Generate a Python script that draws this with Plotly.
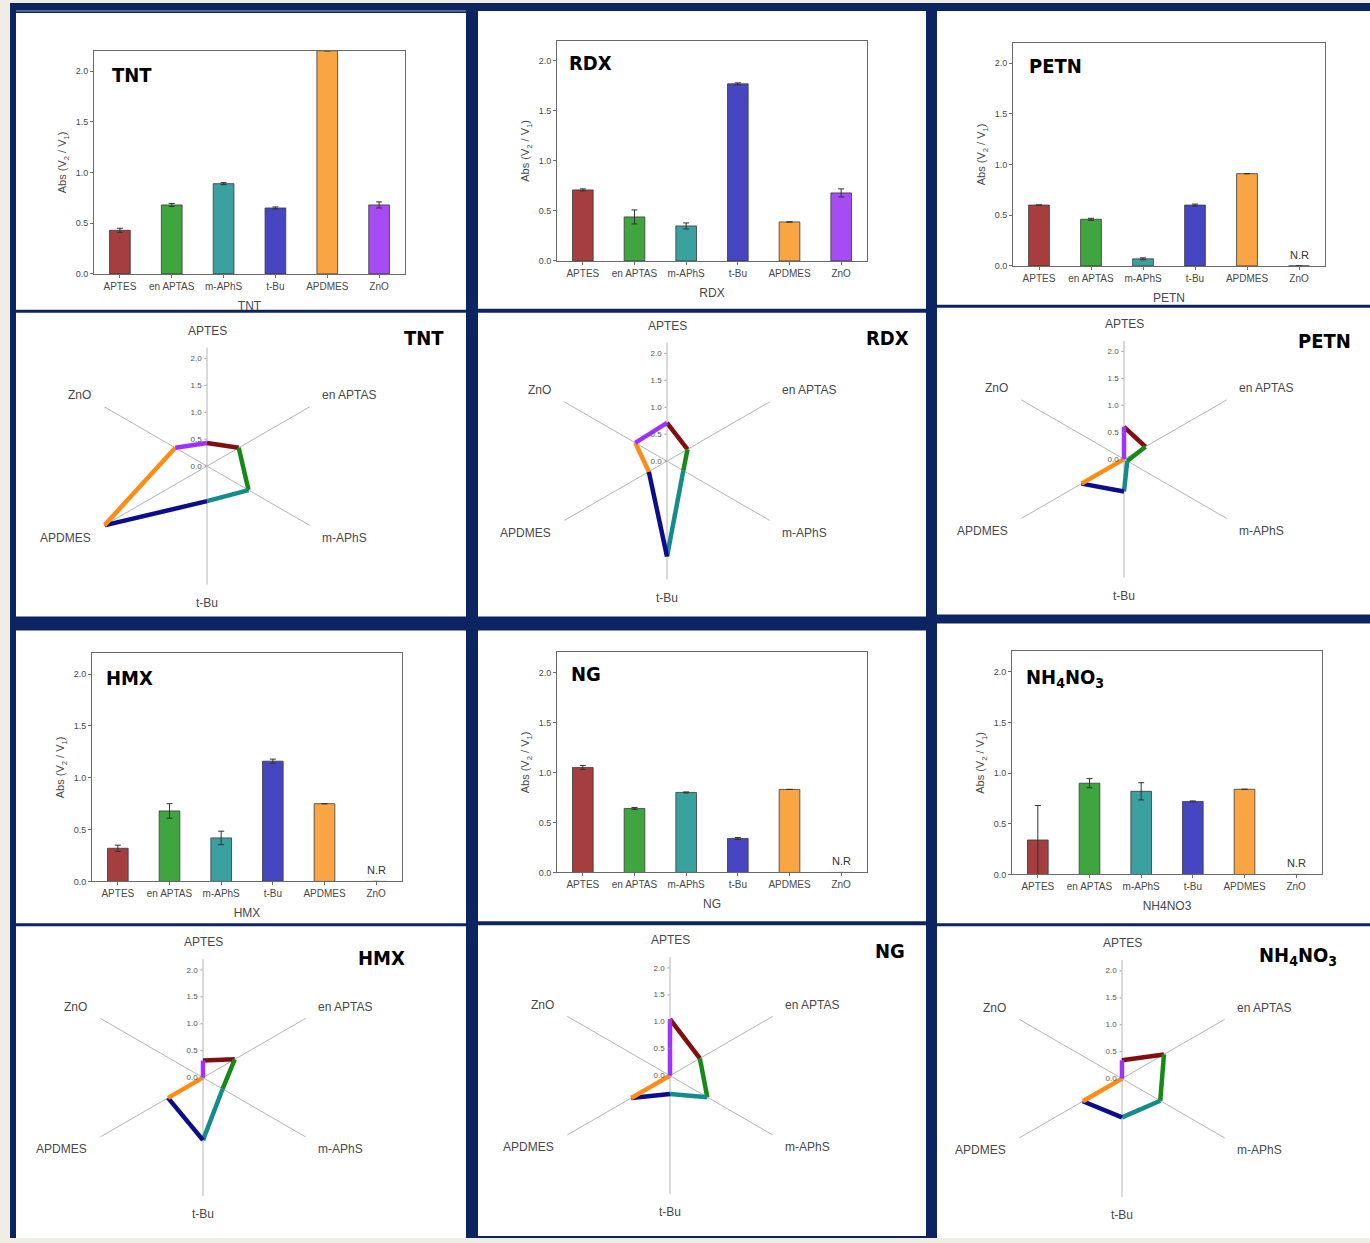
import plotly.graph_objects as go

# ---- data -------------------------------------------------------------
categories = ["APTES", "en APTAS", "m-APhS", "t-Bu", "APDMES", "ZnO"]

tnt = [0.43, 0.68, 0.89, 0.65, 2.20, 0.68]
tnt_err = [0.02, 0.015, 0.01, 0.01, 0.0, 0.03]

rdx = [0.71, 0.44, 0.35, 1.77, 0.39, 0.68]
rdx_err = [0.01, 0.07, 0.03, 0.01, 0.0, 0.04]

petn = [0.60, 0.46, 0.07, 0.60, 0.91, 0.0]
petn_err = [0.0, 0.01, 0.01, 0.01, 0.0, 0.0]

hmx = [0.32, 0.68, 0.42, 1.16, 0.75, 0.0]
hmx_err = [0.03, 0.07, 0.065, 0.02, 0.0, 0.0]

ng = [1.05, 0.64, 0.80, 0.34, 0.83, 0.0]
ng_err = [0.02, 0.01, 0.005, 0.01, 0.0, 0.0]

nh4no3 = [0.34, 0.90, 0.82, 0.72, 0.84, 0.0]
nh4no3_err = [0.34, 0.045, 0.085, 0.005, 0.0, 0.0]

y_ticks = [0.0, 0.5, 1.0, 1.5, 2.0]
y_tick_labels = ["0.0", "0.5", "1.0", "1.5", "2.0"]

# ---- styles -----------------------------------------------------------
bar_colors = ["#a53f3f", "#3fa53f", "#3aa0a0", "#4646c2", "#f9a544", "#a64cf2"]
seg_colors = ["#820f0f", "#168a16", "#148c8c", "#0c0c8c", "#ff8c14", "#a032ff"]
NAVY = "#0c2461"
W, H = 1370, 1243
LABEL_FONT = "Liberation Sans, Arial, sans-serif"
TITLE_FONT = "Liberation Sans Narrow, DejaVu Sans Condensed, Arial Narrow, Liberation Sans, sans-serif"
GREY_TEXT = "#484848"


def fx(x):
    return x / W


def fy(y):
    return 1 - y / H


# panel geometry (pixels): bar frame box, radar centre, title anchors
panels = [
    dict(label="TNT", xtitle="TNT", vals=tnt, err=tnt_err, nr=False,
         bar=(94, 51, 405, 275), btitle=(110, 75),
         radar=(207, 468), rtitle=(424, 339)),
    dict(label="RDX", xtitle="RDX", vals=rdx, err=rdx_err, nr=False,
         bar=(557, 41, 867, 262), btitle=(567, 63),
         radar=(667, 463), rtitle=(887, 339)),
    dict(label="PETN", xtitle="PETN", vals=petn, err=petn_err, nr=True,
         bar=(1013, 43, 1325, 267), btitle=(1027, 66),
         radar=(1124, 461), rtitle=(1324, 342)),
    dict(label="HMX", xtitle="HMX", vals=hmx, err=hmx_err, nr=True,
         bar=(92, 656, 402, 885), btitle=(104, 681),
         radar=(203, 1082), rtitle=(381, 962)),
    dict(label="NG", xtitle="NG", vals=ng, err=ng_err, nr=True,
         bar=(557, 655, 867, 876), btitle=(569, 677),
         radar=(670, 1080), rtitle=(890, 955)),
    dict(label="NH<sub>4</sub>NO<sub>3</sub>", xtitle="NH4NO3",
         vals=nh4no3, err=nh4no3_err, nr=True,
         bar=(1012, 654, 1322, 878), btitle=(1024, 681),
         radar=(1122, 1083), rtitle=(1298, 960)),
]

# spoke label placement around each radar centre (dx, dy, xanchor)
spoke_label_pos = [
    (0, -136, "center"), (113, -71, "left"), (113, 72, "left"),
    (0, 137, "center"), (-114, 72, "right"), (-114, -71, "right"),
]

# white cells inside the navy frame (x0, y0, x1, y1)
cells = [
    (16, 13, 466, 311), (16, 314, 466, 619),
    (478, 11, 926, 310), (478, 314, 926, 619),
    (937, 11, 1370, 306), (937, 309, 1370, 617),
    (16, 633, 466, 927), (16, 930, 466, 1243),
    (478, 633, 926, 925), (478, 929, 926, 1241),
    (937, 626, 1370, 927), (937, 930, 1370, 1243),
]

R_PX = 119

fig = go.Figure()
layout = dict(
    width=W, height=H, margin=dict(l=0, r=0, t=0, b=0),
    paper_bgcolor="#efede4", plot_bgcolor="white", showlegend=False,
    shapes=[], annotations=[],
)

layout["shapes"].append(dict(type="rect", xref="paper", yref="paper",
                             x0=fx(10), x1=fx(W), y0=fy(H), y1=fy(3),
                             fillcolor=NAVY, line=dict(width=0), layer="below"))
for (x0, y0, x1, y1) in cells:
    layout["shapes"].append(dict(type="rect", xref="paper", yref="paper",
                                 x0=fx(x0), x1=fx(x1), y0=fy(y1), y1=fy(y0),
                                 fillcolor="white", line=dict(width=0), layer="below"))
# faint inner rule along the top of the first panel
layout["shapes"].append(dict(type="line", xref="paper", yref="paper",
                             x0=fx(16), x1=fx(466), y0=fy(11), y1=fy(11),
                             line=dict(color="#9aa6c4", width=1), layer="below"))

for i, p in enumerate(panels):
    n = i + 1
    xa = "x" if n == 1 else f"x{n}"
    ya = "y" if n == 1 else f"y{n}"
    bx0, by0, bx1, by1 = p["bar"]

    fig.add_trace(go.Bar(
        x=categories, y=p["vals"], xaxis=xa, yaxis=ya, width=0.4,
        marker=dict(color=bar_colors, line=dict(color="#3a3a3a", width=0.8)),
        error_y=dict(type="data", array=p["err"], color="#333333",
                     thickness=1, width=3),
    ))

    axis_font = dict(family=LABEL_FONT, size=10, color=GREY_TEXT)
    layout[f"xaxis{'' if n == 1 else n}"] = dict(
        domain=[fx(bx0), fx(bx1)], anchor=ya, type="category",
        categoryorder="array", categoryarray=categories, range=[-0.5, 5.5],
        showline=True, mirror=True, linecolor="#6a6a6a", linewidth=1,
        ticks="outside", ticklen=3, tickcolor="#6a6a6a", tickfont=axis_font,
        showgrid=False, zeroline=False,
        title=dict(text=p["xtitle"], font=dict(family=LABEL_FONT, size=12, color=GREY_TEXT),
                   standoff=10),
    )
    layout[f"yaxis{'' if n == 1 else n}"] = dict(
        domain=[fy(by1), fy(by0)], anchor=xa, range=[0, 2.2],
        tickvals=y_ticks, ticktext=y_tick_labels,
        showline=True, mirror=True, linecolor="#6a6a6a", linewidth=1,
        ticks="outside", ticklen=3, tickcolor="#6a6a6a",
        tickfont=dict(family=LABEL_FONT, size=9, color=GREY_TEXT),
        showgrid=False, zeroline=False,
        title=dict(text="Abs (V<sub>2</sub> / V<sub>1</sub>)",
                   font=dict(family=LABEL_FONT, size=11, color=GREY_TEXT), standoff=6),
    )

    # chart title inside the bar frame
    tx, ty = p["btitle"]
    layout["annotations"].append(dict(
        text=f"<b>{p['label']}</b>", xref="paper", yref="paper",
        x=fx(tx), y=fy(ty), xanchor="left", yanchor="middle", showarrow=False,
        font=dict(family=TITLE_FONT, size=20, color="black")))

    if p["nr"]:
        layout["annotations"].append(dict(
            text="N.R", xref=xa, yref=ya, x="ZnO", y=0, xanchor="center",
            yanchor="bottom", yshift=3, showarrow=False,
            font=dict(family=LABEL_FONT, size=11, color="#333333")))

    # radar: one coloured segment from each category to the next
    pol = "polar" if n == 1 else f"polar{n}"
    cx, cy = p["radar"]
    for k in range(len(categories)):
        k2 = (k + 1) % len(categories)
        fig.add_trace(go.Scatterpolar(
            r=[p["vals"][k], p["vals"][k2]],
            theta=[categories[k], categories[k2]],
            mode="lines", subplot=pol,
            line=dict(color=seg_colors[k], width=4.5),
        ))
    layout[pol] = dict(
        domain=dict(x=[fx(cx - R_PX), fx(cx + R_PX)], y=[fy(cy + R_PX), fy(cy - R_PX)]),
        bgcolor="rgba(0,0,0,0)",
        angularaxis=dict(
            type="category", categoryorder="array", categoryarray=categories,
            rotation=90, direction="clockwise", showline=False, ticks="",
            showgrid=True, gridcolor="#b4b4b4", gridwidth=1, showticklabels=False,
        ),
        radialaxis=dict(
            range=[0, 2.2], angle=90, side="counterclockwise", tickangle=90,
            tickvals=y_ticks, ticktext=y_tick_labels, showgrid=False,
            showline=False, ticks="outside", ticklen=2, tickcolor="#999999",
            tickfont=dict(family=LABEL_FONT, size=8, color="#555555"),
        ),
    )
    for cat, (dx, dy, anchor) in zip(categories, spoke_label_pos):
        layout["annotations"].append(dict(
            text=cat, xref="paper", yref="paper", x=fx(cx + dx), y=fy(cy + dy),
            xanchor=anchor, yanchor="middle", showarrow=False,
            font=dict(family=LABEL_FONT, size=12, color=GREY_TEXT)))
    rx, ry = p["rtitle"]
    layout["annotations"].append(dict(
        text=f"<b>{p['label']}</b>", xref="paper", yref="paper",
        x=fx(rx), y=fy(ry), xanchor="center", yanchor="middle", showarrow=False,
        font=dict(family=TITLE_FONT, size=20, color="black")))

fig.update_layout(**layout)
fig.write_html("out.html")
